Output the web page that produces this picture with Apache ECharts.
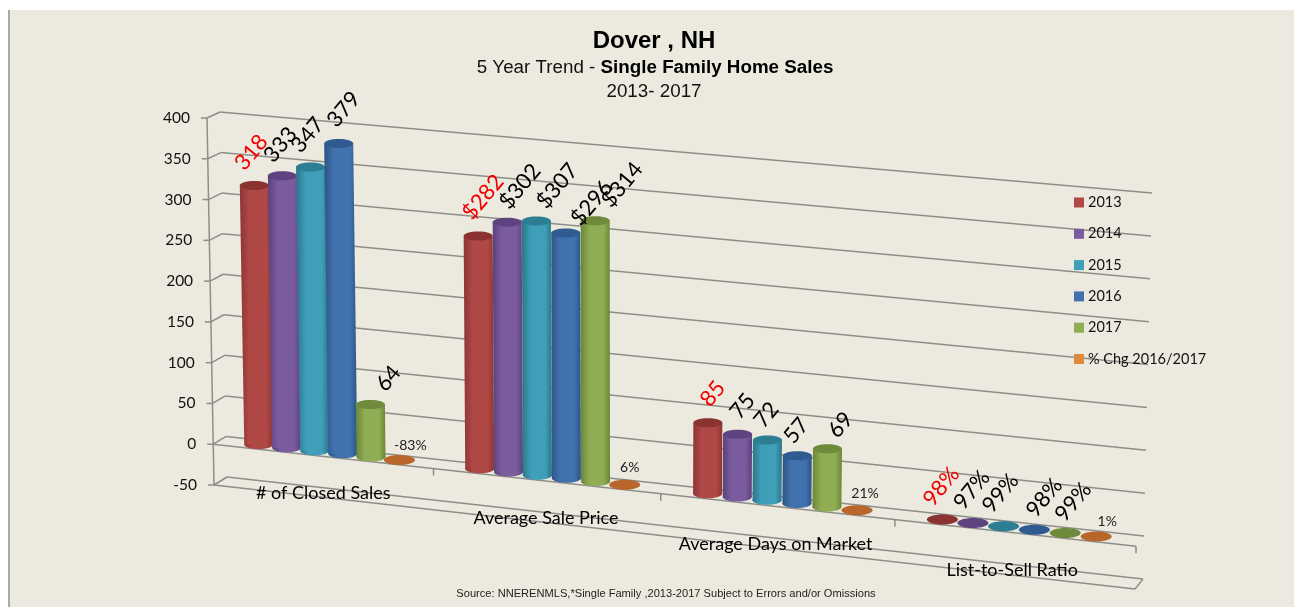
<!DOCTYPE html>
<html>
<head>
<meta charset="utf-8">
<title>Dover, NH</title>
<script src="https://cdn.jsdelivr.net/npm/echarts@6/dist/echarts.min.js"></script>
<style>
html, body { margin: 0; padding: 0; background: #fff; overflow: hidden; }
#panel { position: absolute; left: 8px; top: 10px; width: 1284px; height: 597px; background: #ecEADF; border-left: 2px solid #aaa9a2; }
#chart { position: absolute; left: 0; top: 0; width: 1294px; height: 607px; }
</style>
</head>
<body>
<div id="panel"></div>
<div id="chart"></div>
<script>
const categories = ['# of Closed Sales', 'Average Sale Price', 'Average Days on Market', 'List-to-Sell Ratio'];
const yTicks = [-50, 0, 50, 100, 150, 200, 250, 300, 350, 400];
const seriesNames = ['2013', '2014', '2015', '2016', '2017', '% Chg 2016/2017'];

// $ prices are in thousands, ratios and changes are fractions
const y2013 = [318, 282, 85, 0.98];
const y2014 = [333, 302, 75, 0.97];
const y2015 = [347, 307, 72, 0.99];
const y2016 = [379, 296, 57, 0.98];
const y2017 = [64, 314, 69, 0.99];
const chg1617 = [-0.83, 0.06, 0.21, 0.01];
const allValues = [y2013, y2014, y2015, y2016, y2017, chg1617];

const colors = ['#b04846', '#7a5b9e', '#3f9fb8', '#4272ae', '#8fad52', '#e08a3c'];
const topColors = ['#8a3331', '#5e4380', '#2c7f93', '#2f5b91', '#6e8b3b', '#b8662a'];
const darkEdges = ['#8c3634', '#5a4279', '#2b7489', '#2c5486', '#6c853a', '#b8662a'];

// the chart's oblique box: corner pixels of the front plane and of the back wall
const frontTL = [207, 118], frontTR = [1144, 205], frontBL = [214, 485], frontBR = [1135, 589];
const backTL = [220, 112], backTR = [1152, 193], backBL = [227, 477], backBR = [1143, 579];
const BAR_DEPTH = 0.5;
const BAR_STEP = 0.032;
const BAR_RX = 14.5;
const BAR_RY = 4.5;

// hand placed data labels in the original, [dx, dy] from top of bar
const labelNudge = [
    [[-3, -33], [-2, -31], [-3, -32], [5, -34], [18, -26], [11, -15]],
    [[5, -39], [13, -36], [21, -35], [26, -30], [27, -36], [5, -17]],
    [[5, -29], [5, -28], [-1, -25], [-1, -25], [13, -24], [8, -17]],
    [[-1, -33], [-1, -33], [-3, -33], [10, -32], [8, -31], [11, -15]]
];

const lerp = (a, b, t) => a + (b - a) * t;
const lerp2 = (p, q, t) => [lerp(p[0], q[0], t), lerp(p[1], q[1], t)];

function project(u, w, d) {
    const warped = u - 0.06 * u * (1 - u);
    const front = lerp2(lerp2(frontTL, frontTR, warped), lerp2(frontBL, frontBR, warped), w);
    const back = lerp2(lerp2(backTL, backTR, warped), lerp2(backBL, backBR, warped), w);
    return lerp2(front, back, d);
}

function valueToW(params, api, v) {
    const cs = params.coordSys;
    return (api.coord([0, v])[1] - cs.y) / cs.height;
}

function line(a, b, width) {
    return {
        type: 'line',
        shape: { x1: a[0], y1: a[1], x2: b[0], y2: b[1] },
        style: { stroke: '#8d8d8a', lineWidth: width || 1.5, fill: null }
    };
}

function renderFrame(params, api) {
    const kids = [];
    const w0 = valueToW(params, api, 0);
    const wMin = valueToW(params, api, yTicks[0]);
    const wMax = valueToW(params, api, yTicks[yTicks.length - 1]);
    yTicks.forEach(t => {
        const w = valueToW(params, api, t);
        const f = project(0, w, 0);
        const b = project(0, w, 1);
        kids.push(line(f, b));
        kids.push(line(b, project(1, w, 1)));
        kids.push(line([f[0] - 6, f[1]], f));
        kids.push({
            type: 'text',
            x: f[0] - 17,
            y: f[1],
            style: { text: String(t), fill: '#111', font: '15.5px Lato', textAlign: 'right', textVerticalAlign: 'middle' }
        });
    });
    kids.push(line(project(0, wMax, 0), project(0, wMin, 0)));
    kids.push(line(project(0, w0, 0), project(1, w0, 0)));
    kids.push(line(project(0, wMin, 0), project(1, wMin, 0)));
    kids.push(line(project(1, wMin, 0), project(1, wMin, 1)));
    for (let i = 1; i <= categories.length; i++) {
        const p = project(i / categories.length, w0, 0);
        kids.push(line(p, [p[0], p[1] + 7]));
    }
    return { type: 'group', children: kids };
}

function barU(params, api, catIdx, s) {
    const cs = params.coordSys;
    const px = api.coord([catIdx, 0])[0];
    return (px - cs.x) / cs.width + (s - 2.5) * BAR_STEP;
}

function barGradient(s) {
    return new echarts.graphic.LinearGradient(0, 0, 1, 0, [
        { offset: 0, color: darkEdges[s] },
        { offset: 0.3, color: colors[s] },
        { offset: 0.78, color: colors[s] },
        { offset: 1, color: darkEdges[s] }
    ]);
}

function renderBar(s) {
    return function (params, api) {
        const catIdx = api.value(0);
        const val = api.value(1);
        const u = barU(params, api, catIdx, s);
        const base = project(u, valueToW(params, api, 0), BAR_DEPTH);
        const top = project(u, valueToW(params, api, val), BAR_DEPTH);
        if (s === 5 || Math.abs(val) < 2) {
            // flat values only show as a disc lying on the floor
            return {
                type: 'ellipse',
                shape: { cx: base[0], cy: base[1], rx: BAR_RX + 1, ry: BAR_RY + 0.5 },
                style: { fill: topColors[s] }
            };
        }
        const fill = barGradient(s);
        return {
            type: 'group',
            children: [
                { type: 'ellipse', shape: { cx: base[0], cy: base[1], rx: BAR_RX, ry: BAR_RY }, style: { fill: fill } },
                {
                    type: 'polygon',
                    shape: { points: [[top[0] - BAR_RX, top[1]], [top[0] + BAR_RX, top[1]], [base[0] + BAR_RX, base[1]], [base[0] - BAR_RX, base[1]]] },
                    style: { fill: fill }
                },
                { type: 'ellipse', shape: { cx: top[0], cy: top[1], rx: BAR_RX, ry: BAR_RY }, style: { fill: topColors[s] } }
            ]
        };
    };
}

function labelText(catIdx, s, val) {
    if (s === 5 || catIdx === 3) return Math.round(val * 100) + '%';
    if (catIdx === 1) return '$' + val;
    return String(val);
}

function renderBarLabel(params, api) {
    const catIdx = api.value(0);
    const val = api.value(1);
    const s = api.value(2);
    const u = barU(params, api, catIdx, s);
    const at = s === 5 || catIdx === 3 ? 0 : val;
    const top = project(u, valueToW(params, api, at), BAR_DEPTH);
    const nudge = labelNudge[catIdx][s];
    const flat = s === 5;
    return {
        type: 'text',
        x: top[0] + nudge[0],
        y: top[1] + nudge[1],
        rotation: flat ? 0 : 50 * Math.PI / 180,
        style: {
            text: labelText(catIdx, s, val),
            fill: s === 0 ? '#f00000' : (flat ? '#222' : '#000'),
            font: (flat ? 14 : 22) + 'px Lato',
            textAlign: 'center',
            textVerticalAlign: 'middle'
        }
    };
}

function renderCategoryLabel(params, api) {
    const catIdx = api.value(0);
    const cs = params.coordSys;
    const u = (api.coord([catIdx, 0])[0] - cs.x) / cs.width;
    const p = project(u, valueToW(params, api, yTicks[0]), BAR_DEPTH);
    return {
        type: 'text',
        x: p[0] - 6,
        y: p[1],
        style: { text: categories[catIdx], fill: '#000', font: '18px Lato', textAlign: 'center', textVerticalAlign: 'middle' }
    };
}

const barSeries = seriesNames.map((name, s) => ({
    name: name,
    type: 'custom',
    coordinateSystem: 'cartesian2d',
    z: 3 + s,
    clip: false,
    silent: true,
    itemStyle: { color: colors[s] },
    renderItem: renderBar(s),
    data: allValues[s].map((v, i) => [i, v])
}));

const labelRows = [];
allValues.forEach((vals, s) => vals.forEach((v, i) => labelRows.push([i, v, s])));

const option = {
    animation: false,
    backgroundColor: 'transparent',
    title: [
        { text: 'Dover , NH', left: 649, top: 24, textAlign: 'center', textStyle: { fontFamily: 'Liberation Sans', fontSize: 24, fontWeight: 'bold', color: '#000' } },
        {
            text: '{a|5 Year Trend - }{b|Single Family Home Sales}',
            left: 650, top: 53, textAlign: 'center',
            textStyle: { rich: {
                a: { fontFamily: 'Liberation Sans', fontSize: 18.8, fontWeight: 'normal', color: '#111' },
                b: { fontFamily: 'Liberation Sans', fontSize: 18.8, fontWeight: 'bold', color: '#000' }
            } }
        },
        { text: '2013- 2017', left: 649, top: 77, textAlign: 'center', textStyle: { fontFamily: 'Liberation Sans', fontSize: 18.8, fontWeight: 'normal', color: '#111' } },
        { text: 'Source: NNERENMLS,*Single Family ,2013-2017 Subject to Errors and/or Omissions', left: 661, top: 583, textAlign: 'center', textStyle: { fontFamily: 'Liberation Sans', fontSize: 11.1, fontWeight: 'normal', color: '#222' } }
    ],
    legend: {
        data: seriesNames,
        orient: 'vertical',
        left: 1069,
        top: 190,
        icon: 'rect',
        itemWidth: 10,
        itemHeight: 10,
        itemGap: 16.3,
        selectedMode: false,
        textStyle: { fontFamily: 'Lato', fontSize: 14.5, color: '#111', padding: [0, 0, 0, -1] }
    },
    grid: { left: 207, top: 118, width: 937, height: 367 },
    xAxis: { type: 'category', data: categories, show: false },
    yAxis: { type: 'value', min: yTicks[0], max: yTicks[yTicks.length - 1], interval: 50, show: false },
    series: [
        { name: 'frame', type: 'custom', z: 1, silent: true, clip: false, renderItem: renderFrame, data: [[0, 0]] },
        ...barSeries,
        { name: 'barLabels', type: 'custom', z: 12, silent: true, clip: false, renderItem: renderBarLabel, data: labelRows },
        { name: 'catLabels', type: 'custom', z: 12, silent: true, clip: false, renderItem: renderCategoryLabel, data: categories.map((c, i) => [i, 0]) }
    ]
};

const myChart = echarts.init(document.getElementById('chart'));
myChart.setOption(option);
</script>
</body>
</html>
